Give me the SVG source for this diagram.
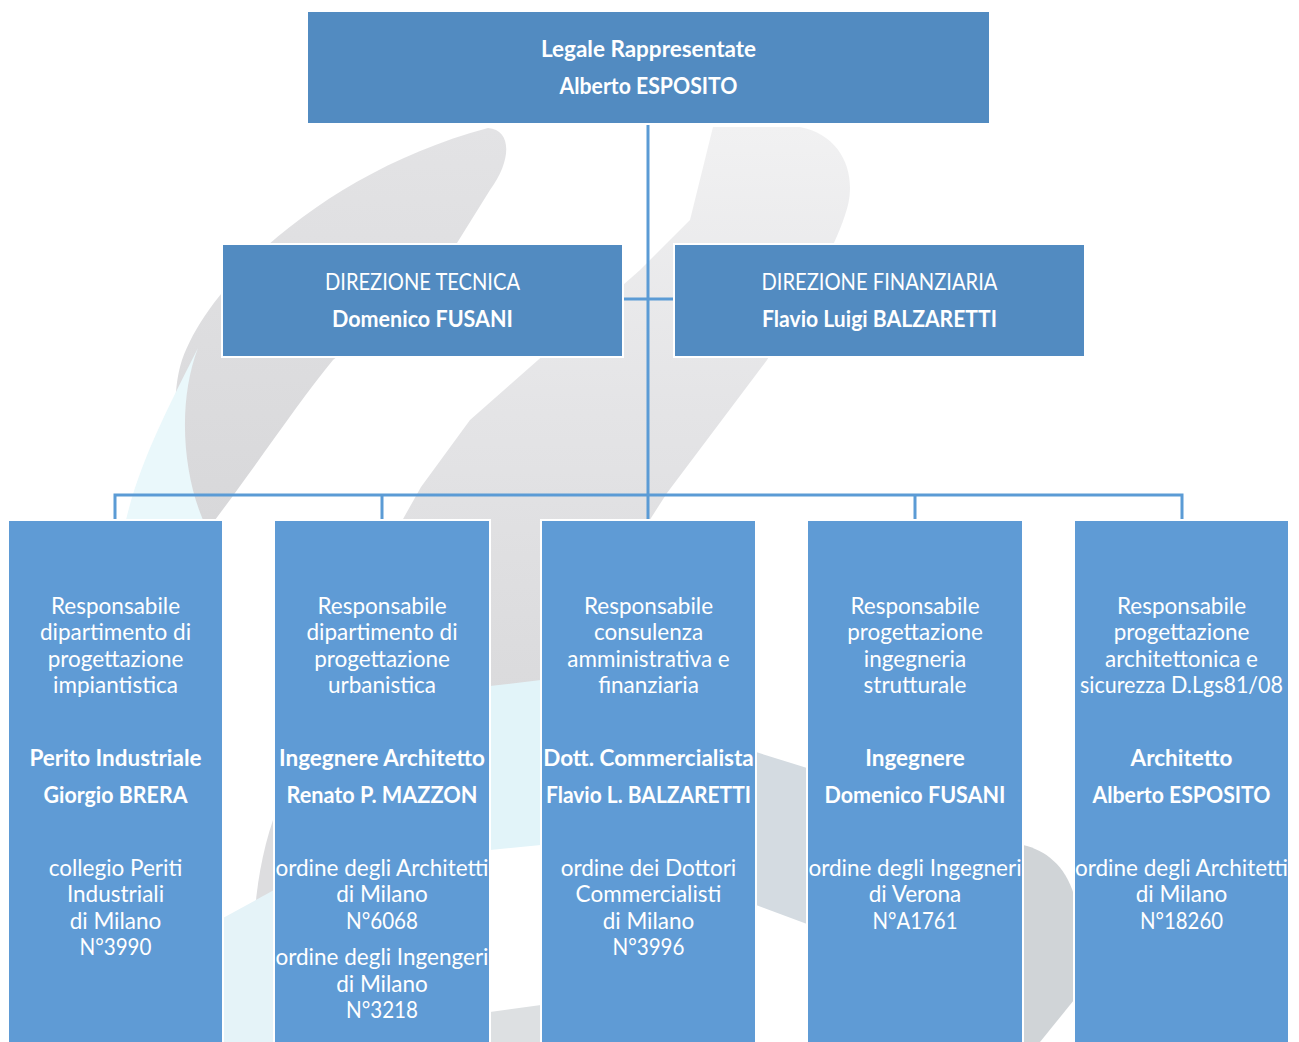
<svg xmlns="http://www.w3.org/2000/svg" width="1299" height="1042" viewBox="0 0 1299 1042">
<defs>
<style>
.top{fill:#528BC1;stroke:#fff;stroke-width:2}
.bot{fill:#5F9BD5;stroke:#fff;stroke-width:2}
.t{font-family:Lato,"Open Sans",sans-serif;font-size:22.5px;fill:#fff;text-anchor:middle}
.b{font-weight:bold}
.ln{stroke:#5B9BD5;stroke-width:3;fill:none}
</style>
<linearGradient id="gB" x1="0" y1="0" x2="0" y2="1">
<stop offset="0" stop-color="#f1f1f2"/>
<stop offset="0.5" stop-color="#e4e4e6"/>
<stop offset="1" stop-color="#dadadc"/>
</linearGradient>
<linearGradient id="gA" x1="0" y1="0" x2="0" y2="1">
<stop offset="0" stop-color="#e3e3e5"/>
<stop offset="1" stop-color="#d8d8da"/>
</linearGradient>
</defs>
<rect width="1299" height="1042" fill="#fff"/>
<g id="watermark">
<path d="M488,128 C512,130 512,160 490,190 L457,243 C420,300 370,330 333,360 C300,400 260,460 215,520 L200,520 C170,450 172,390 182,360 C210,280 330,170 488,128 Z" fill="url(#gA)"/>
<path d="M198,348 C172,400 140,460 126,520 L203,520 C182,470 178,400 198,348 Z" fill="#eaf8fb"/>
<path d="M713,127 L800,127 C840,135 856,170 848,205 C838,245 800,310 767,360 L667,493 L541,690 L490,700 L380,560 L421,487 L470,420 L546,353 L640,270 L690,220 Z" fill="url(#gB)"/>
<path d="M490,686 L541,680 L541,845 L490,850 Z" fill="#e2f4f9"/>
<path d="M756,752 L807,768 L807,924 L756,905 Z" fill="#d4dbe1"/>
<path d="M1023,845 C1045,850 1065,865 1074,895 L1074,1000 L1040,1042 L1023,1042 Z" fill="#d0d4d7"/>
<path d="M273,820 C256,870 250,930 255,1000 L274,1000 L274,820 Z" fill="#dddddf"/>
<path d="M223,918 L274,890 L274,1042 L223,1042 Z" fill="#e5f3f8"/>
<path d="M490,1012 L541,1005 L541,1042 L490,1042 Z" fill="#dde0e2"/>
</g>
<g id="connectors">
<line class="ln" x1="648" y1="125" x2="648" y2="495"/>
<line class="ln" x1="624" y1="299" x2="673" y2="299"/>
<polyline class="ln" points="115,521 115,495 1182,495 1182,521"/>
<line class="ln" x1="382" y1="495" x2="382" y2="521"/>
<line class="ln" x1="648" y1="495" x2="648" y2="521"/>
<line class="ln" x1="915" y1="495" x2="915" y2="521"/>
</g>
<g id="n-legale">
<rect class="top" x="307" y="11" width="683" height="113"/>
<text class="t b" x="648.5" y="56.5">Legale Rappresentate</text>
<text class="t b" x="648.5" y="93.5" textLength="178" lengthAdjust="spacingAndGlyphs">Alberto ESPOSITO</text>
</g>
<g id="n-tecnica">
<rect class="top" x="222" y="244" width="401" height="113"/>
<text class="t" x="422.5" y="289.5" textLength="195" lengthAdjust="spacingAndGlyphs">DIREZIONE TECNICA</text>
<text class="t b" x="422.5" y="326.5" textLength="181" lengthAdjust="spacingAndGlyphs">Domenico FUSANI</text>
</g>
<g id="n-finanziaria">
<rect class="top" x="674" y="244" width="411" height="113"/>
<text class="t" x="879.5" y="289.5" textLength="236" lengthAdjust="spacingAndGlyphs">DIREZIONE FINANZIARIA</text>
<text class="t b" x="879.5" y="326.5" textLength="235" lengthAdjust="spacingAndGlyphs">Flavio Luigi BALZARETTI</text>
</g>
<g id="n-impianti">
<rect class="bot" x="8" y="520" width="215" height="530"/>
<text class="t" x="115.5" y="614">Responsabile</text>
<text class="t" x="115.5" y="640">dipartimento di</text>
<text class="t" x="115.5" y="667">progettazione</text>
<text class="t" x="115.5" y="693">impiantistica</text>
<text class="t b" x="115.5" y="766">Perito Industriale</text>
<text class="t b" x="115.5" y="803" textLength="144" lengthAdjust="spacingAndGlyphs">Giorgio BRERA</text>
<text class="t" x="115.5" y="876">collegio Periti</text>
<text class="t" x="115.5" y="902">Industriali</text>
<text class="t" x="115.5" y="929">di Milano</text>
<text class="t" x="115.5" y="955" textLength="72" lengthAdjust="spacingAndGlyphs">N°3990</text>
</g>
<g id="n-urbanistica">
<rect class="bot" x="274" y="520" width="216" height="530"/>
<text class="t" x="382" y="614">Responsabile</text>
<text class="t" x="382" y="640">dipartimento di</text>
<text class="t" x="382" y="667">progettazione</text>
<text class="t" x="382" y="693">urbanistica</text>
<text class="t b" x="382" y="766">Ingegnere Architetto</text>
<text class="t b" x="382" y="803" textLength="191" lengthAdjust="spacingAndGlyphs">Renato P. MAZZON</text>
<text class="t" x="382" y="876">ordine degli Architetti</text>
<text class="t" x="382" y="902">di Milano</text>
<text class="t" x="382" y="929" textLength="72" lengthAdjust="spacingAndGlyphs">N°6068</text>
<text class="t" x="382" y="965">ordine degli Ingengeri</text>
<text class="t" x="382" y="992">di Milano</text>
<text class="t" x="382" y="1018" textLength="72" lengthAdjust="spacingAndGlyphs">N°3218</text>
</g>
<g id="n-amministrativa">
<rect class="bot" x="541" y="520" width="215" height="530"/>
<text class="t" x="648.5" y="614">Responsabile</text>
<text class="t" x="648.5" y="640">consulenza</text>
<text class="t" x="648.5" y="667">amministrativa e</text>
<text class="t" x="648.5" y="693">finanziaria</text>
<text class="t b" x="648.5" y="766">Dott. Commercialista</text>
<text class="t b" x="648.5" y="803" textLength="205" lengthAdjust="spacingAndGlyphs">Flavio L. BALZARETTI</text>
<text class="t" x="648.5" y="876">ordine dei Dottori</text>
<text class="t" x="648.5" y="902">Commercialisti</text>
<text class="t" x="648.5" y="929">di Milano</text>
<text class="t" x="648.5" y="955" textLength="72" lengthAdjust="spacingAndGlyphs">N°3996</text>
</g>
<g id="n-strutturale">
<rect class="bot" x="807" y="520" width="216" height="530"/>
<text class="t" x="915" y="614">Responsabile</text>
<text class="t" x="915" y="640">progettazione</text>
<text class="t" x="915" y="667">ingegneria</text>
<text class="t" x="915" y="693">strutturale</text>
<text class="t b" x="915" y="766">Ingegnere</text>
<text class="t b" x="915" y="803" textLength="181" lengthAdjust="spacingAndGlyphs">Domenico FUSANI</text>
<text class="t" x="915" y="876">ordine degli Ingegneri</text>
<text class="t" x="915" y="902">di Verona</text>
<text class="t" x="915" y="929" textLength="85" lengthAdjust="spacingAndGlyphs">N°A1761</text>
</g>
<g id="n-architettonica">
<rect class="bot" x="1074" y="520" width="215" height="530"/>
<text class="t" x="1181.5" y="614">Responsabile</text>
<text class="t" x="1181.5" y="640">progettazione</text>
<text class="t" x="1181.5" y="667">architettonica e</text>
<text class="t" x="1181.5" y="693" textLength="203" lengthAdjust="spacingAndGlyphs">sicurezza D.Lgs81/08</text>
<text class="t b" x="1181.5" y="766">Architetto</text>
<text class="t b" x="1181.5" y="803" textLength="178" lengthAdjust="spacingAndGlyphs">Alberto ESPOSITO</text>
<text class="t" x="1181.5" y="876">ordine degli Architetti</text>
<text class="t" x="1181.5" y="902">di Milano</text>
<text class="t" x="1181.5" y="929" textLength="83" lengthAdjust="spacingAndGlyphs">N°18260</text>
</g>
</svg>
